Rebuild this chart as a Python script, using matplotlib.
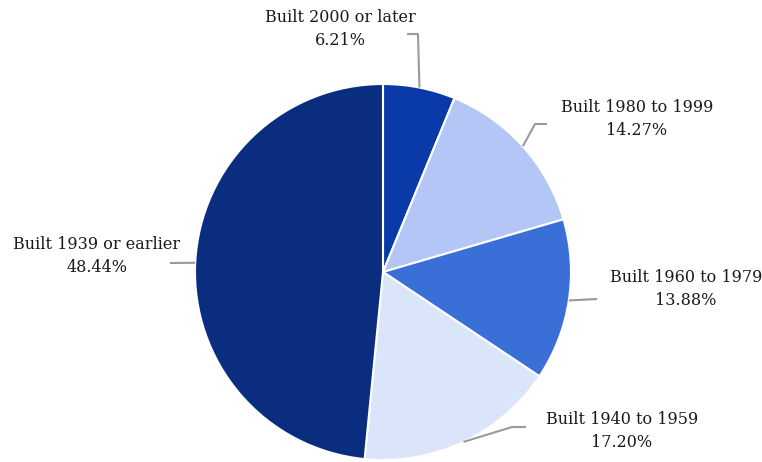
import numpy as np
import matplotlib
matplotlib.use("Agg")
import matplotlib.pyplot as plt

labels = ["Built 2000 or later", "Built 1980 to 1999", "Built 1960 to 1979",
          "Built 1940 to 1959", "Built 1939 or earlier"]
shares = [6.21, 14.27, 13.88, 17.20, 48.44]
colors = ["#0a3aa8", "#b3c6f5", "#3a6fd8", "#dbe5fa", "#0b2d80"]

# label text centres and leader line bends (pixel coords, origin top-left)
text_pos = [(340, 29), (637, 119), (686, 289), (622, 431), (97, 256)]
leader_pts = [[(418, 34), (407, 34)],
              [(535, 124), (547, 124)],
              [(597, 299)],
              [(512, 427), (526, 427)],
              [(170, 263)]]

W, H = 762, 462
fig = plt.figure(figsize=(W / 100, H / 100), dpi=100)
ax = fig.add_axes([0, 0, 1, 1])

cx, cy, r = 383, H - 272, 188
ax.pie(shares, colors=colors, startangle=90, counterclock=False,
       radius=r, center=(cx, cy),
       wedgeprops=dict(edgecolor="white", linewidth=1.5))
ax.set_xlim(0, W)
ax.set_ylim(0, H)
ax.set_aspect("equal")
ax.axis("off")

start = 0.0
for i, (lab, v) in enumerate(zip(labels, shares)):
    mid = (start + v / 2) / 100 * 2 * np.pi
    start += v
    px = cx + r * np.sin(mid)
    py = cy + r * np.cos(mid)
    xs = [px] + [p[0] for p in leader_pts[i]]
    ys = [py] + [H - p[1] for p in leader_pts[i]]
    ax.plot(xs, ys, color="#9a9a9a", lw=1.5, solid_capstyle="butt")
    tx, ty = text_pos[i]
    ax.text(tx, H - ty, f"{lab}\n{v:.2f}%", ha="center", va="center",
            family="DejaVu Serif", fontsize=11.5, color="#1a1a1a", linespacing=1.5)

fig.savefig("out.png", dpi=100)
